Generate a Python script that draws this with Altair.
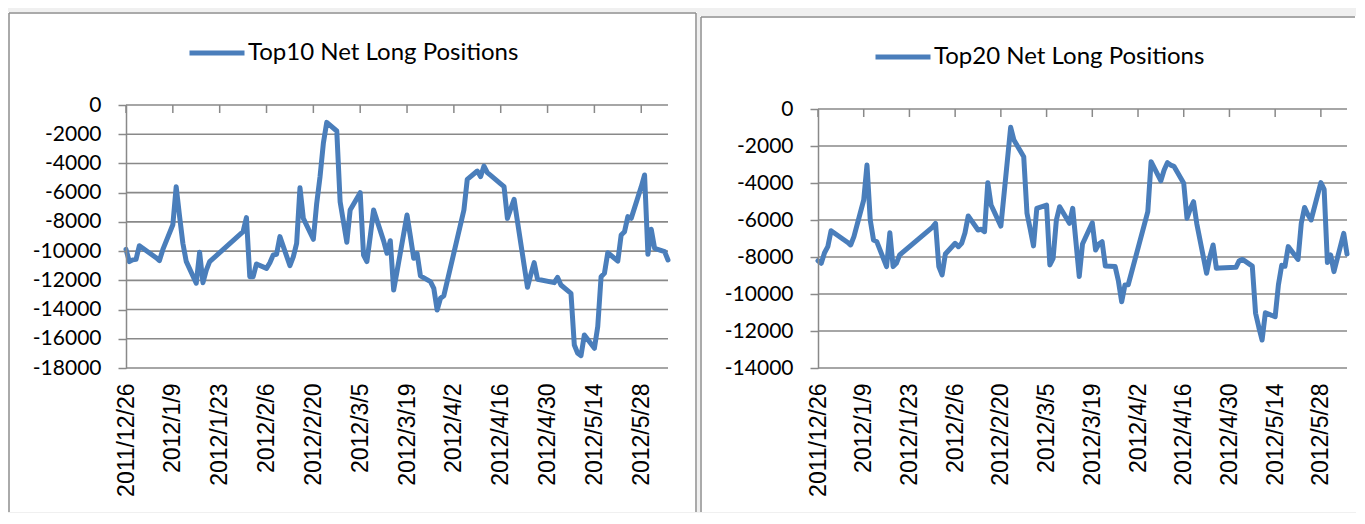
import json
import altair as alt
import pandas as pd

# ---------------- data ----------------
dates = [
    "2011-12-26", "2011-12-27", "2011-12-28", "2011-12-29", "2011-12-30",
    "2012-01-04", "2012-01-05", "2012-01-06", "2012-01-09", "2012-01-10", "2012-01-11", "2012-01-12", "2012-01-13",
    "2012-01-16", "2012-01-17", "2012-01-18", "2012-01-19", "2012-01-20",
    "2012-01-30", "2012-01-31", "2012-02-01", "2012-02-02", "2012-02-03",
    "2012-02-06", "2012-02-07", "2012-02-08", "2012-02-09", "2012-02-10",
    "2012-02-13", "2012-02-14", "2012-02-15", "2012-02-16", "2012-02-17",
    "2012-02-20", "2012-02-21", "2012-02-22", "2012-02-23", "2012-02-24",
    "2012-02-27", "2012-02-28", "2012-02-29", "2012-03-01", "2012-03-02",
    "2012-03-05", "2012-03-06", "2012-03-07", "2012-03-08", "2012-03-09",
    "2012-03-12", "2012-03-13", "2012-03-14", "2012-03-15", "2012-03-16",
    "2012-03-19", "2012-03-20", "2012-03-21", "2012-03-22", "2012-03-23",
    "2012-03-26", "2012-03-27", "2012-03-28", "2012-03-29", "2012-03-30",
    "2012-04-05", "2012-04-06",
    "2012-04-09", "2012-04-10", "2012-04-11", "2012-04-12", "2012-04-13",
    "2012-04-16", "2012-04-17", "2012-04-18", "2012-04-19", "2012-04-20",
    "2012-04-23", "2012-04-24", "2012-04-25", "2012-04-26", "2012-04-27",
    "2012-05-02", "2012-05-03", "2012-05-04",
    "2012-05-07", "2012-05-08", "2012-05-09", "2012-05-10", "2012-05-11",
    "2012-05-14", "2012-05-15", "2012-05-16", "2012-05-17", "2012-05-18",
    "2012-05-21", "2012-05-22", "2012-05-23", "2012-05-24", "2012-05-25",
    "2012-05-28", "2012-05-29", "2012-05-30", "2012-05-31", "2012-06-01",
    "2012-06-04", "2012-06-05",
]

top10 = [
    -9880, -10720, -10600, -10560, -9630,
    -10450, -10650, -9900, -8200, -5600, -7600, -9470, -10700,
    -12200, -10080, -12160, -11300, -10720,
    -8670, -7710, -11750, -11750, -10880,
    -11180, -10800, -10270, -10220, -9010,
    -11000, -10400, -9470, -5660, -7760,
    -9190, -6730, -4900, -2600, -1190,
    -1780, -6620, -8000, -9400, -7190,
    -6000, -10270, -10720, -9000, -7190,
    -9300, -10150, -9290, -12660, -11400,
    -7530, -9000, -10490, -10150, -11700,
    -12090, -12550, -14030, -13230, -13050,
    -7190, -5090,
    -4520, -4900, -4180, -4630, -4820,
    -5400, -5590, -7760, -7100, -6460,
    -10970, -12480, -11600, -10790, -11930,
    -12160, -11800, -12320,
    -12890, -16430, -16990, -17150, -15740,
    -16650, -15170, -11750, -11520, -10110,
    -10680, -8900, -8670, -7640, -7760,
    -5600, -4790, -10220, -8510, -9810,
    -10040, -10610,
]

top20 = [
    -8200, -8340, -7770, -7440, -6580,
    -7200, -7350, -6900, -4920, -3030, -6000, -7080, -7170,
    -8520, -6690, -8520, -8340, -7890,
    -6400, -6180, -8520, -8970, -7840,
    -7260, -7440, -7260, -6700, -5780,
    -6540, -6500, -6630, -3980, -5190,
    -6330, -4550, -2770, -990, -1680,
    -2580, -5640, -6500, -7400, -5370,
    -5190, -8430, -8070, -6000, -5280,
    -6180, -5370, -7200, -9060, -7300,
    -6150, -7620, -7300, -7170, -8490,
    -8520, -9300, -10420, -9510, -9500,
    -5550, -2850,
    -3880, -3300, -2900, -3030, -3100,
    -4020, -5900, -5400, -5010, -6200,
    -8880, -8000, -7350, -8610, -8600,
    -8560, -8200, -8130,
    -8490, -11040, -11800, -12490, -11010,
    -11230, -9500, -8450, -8500, -7440,
    -8130, -6180, -5320, -5700, -6000,
    -3980, -4340, -8300, -7890, -8790,
    -6720, -7840,
]

tick_labels = ["2011/12/26", "2012/1/9", "2012/1/23", "2012/2/6", "2012/2/20", "2012/3/5",
               "2012/3/19", "2012/4/2", "2012/4/16", "2012/4/30", "2012/5/14", "2012/5/28"]
y_ticks_10 = [0, -2000, -4000, -6000, -8000, -10000, -12000, -14000, -16000, -18000]
y_ticks_20 = [0, -2000, -4000, -6000, -8000, -10000, -12000, -14000]
axis_start = "2011-12-26"
axis_end = "2012-06-05"

# ---------------- derived ----------------
start = pd.Timestamp(axis_start)
day = [int(d) for d in (pd.to_datetime(dates) - start).days]
end_day = int((pd.Timestamp(axis_end) - start).days)
tick_days = [int(d) for d in (pd.to_datetime(tick_labels, format="%Y/%m/%d") - start).days]
label_expr = f"{json.dumps(tick_labels)}[indexof({json.dumps(tick_days)}, datum.value)]"

BLUE = "#4a7ebb"
GRID = "#898989"
BORDER = "#8e8e8e"
BG = "#f0f0f0"

H = 263  # common plot-area height (both panels share the bottom line)


def panel(values, name, yticks, W, top_off, box, legend_x, legend_y, draw_right_border):
    bl, br, bt, bb = box
    df = pd.DataFrame({"day": day, "value": values, "series": name})
    one = pd.DataFrame({"k": [0]})
    xscale = alt.Scale(domain=[0, end_day], nice=False, zero=False)
    yscale = alt.Scale(domain=[min(yticks), 0], nice=False, zero=False, range=[H, top_off])
    xaxis = alt.Axis(
        values=tick_days, labelExpr=label_expr, labelAngle=270, domain=False, ticks=False,
        tickSize=0, grid=False, labelPadding=15, labelFont="Liberation Sans", labelFontSize=23,
        labelColor="black", labelFlush=False, labelOverlap=False, title=None, zindex=1)
    yaxis = alt.Axis(
        values=yticks, labelExpr="'' + datum.value", domain=True, domainColor=GRID, domainWidth=1.5,
        ticks=True, tickColor=GRID, tickWidth=1.5, tickSize=8, grid=False, labelPadding=17,
        labelFont="Lato", labelFontSize=21, labelColor="black", title=None, zindex=1)

    layers = []
    layers.append(alt.Chart(one).mark_rect(fill="white").encode(
        x=alt.value(bl), x2=alt.value(br), y=alt.value(bt), y2=alt.value(bb)))
    # frame borders (top, left, optional right)
    layers.append(alt.Chart(one).mark_rule(color=BORDER, strokeWidth=1.5).encode(
        x=alt.value(bl + 1), x2=alt.value(br - 1), y=alt.value(bt + 1)))
    layers.append(alt.Chart(one).mark_rule(color=BORDER, strokeWidth=1.5).encode(
        x=alt.value(bl + 1), y=alt.value(bt + 1), y2=alt.value(bb)))
    if draw_right_border:
        layers.append(alt.Chart(one).mark_rule(color=BORDER, strokeWidth=1.5).encode(
            x=alt.value(br - 1), y=alt.value(bt + 1), y2=alt.value(bb)))
    # horizontal gridlines
    layers.append(alt.Chart(pd.DataFrame({"v": yticks})).mark_rule(color=GRID, strokeWidth=1.6).encode(
        y=alt.Y("v:Q", scale=yscale, axis=yaxis)))
    # date-axis ticks along the zero line
    layers.append(alt.Chart(pd.DataFrame({"d": tick_days})).mark_rule(color=GRID, strokeWidth=1.5).encode(
        x=alt.X("d:Q", scale=xscale, axis=xaxis), y=alt.value(top_off), y2=alt.value(top_off + 8)))
    # the series
    layers.append(alt.Chart(df).mark_line(strokeWidth=5, strokeJoin="round", strokeCap="round").encode(
        x=alt.X("day:Q", scale=xscale, axis=xaxis),
        y=alt.Y("value:Q", scale=yscale, axis=yaxis),
        color=alt.Color("series:N", scale=alt.Scale(domain=[name], range=[BLUE]), legend=alt.Legend(
            orient="none", legendX=legend_x, legendY=legend_y, title=None, symbolType="stroke",
            symbolSize=3025, symbolStrokeWidth=5, labelFont="Lato", labelFontSize=24,
            labelColor="black", labelLimit=0, labelOffset=1, padding=0, zindex=1)),
    ))
    return alt.layer(*layers).properties(width=W, height=H)


left = panel(top10, "Top10 Net Long Positions", y_ticks_10, 542, 0,
             (-118, 571, -93, 407), 61, -82, True)
right = panel(top20, "Top20 Net Long Positions", y_ticks_20, 529, 4,
              (-118, 538, -89, 407), 55, -78, False)

chart = alt.hconcat(left, right, spacing=3).resolve_scale(
    color="independent").resolve_legend(color="independent").properties(
    padding={"left": 0, "top": 4, "right": 0, "bottom": 0}, background=BG
).configure_view(stroke=None)

chart.save("out.html", embed_options={"renderer": "svg", "actions": False})
